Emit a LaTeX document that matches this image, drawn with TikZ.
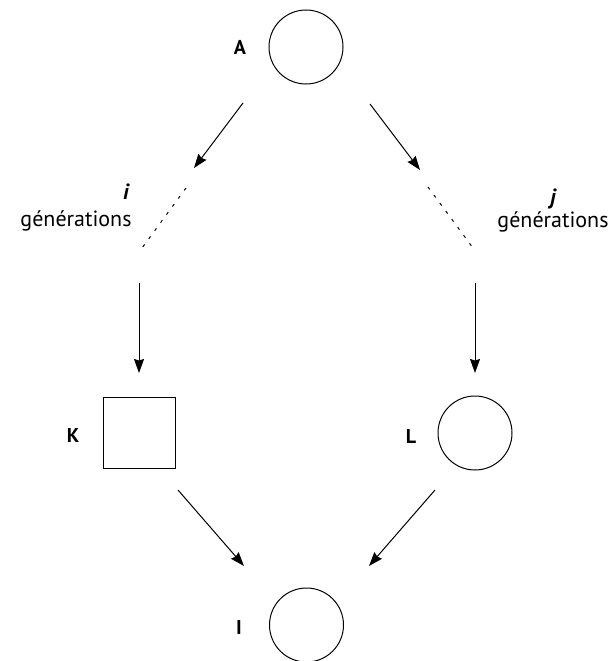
\documentclass[tikz,border=0pt]{standalone}
\usepackage{fontspec}
\setmainfont{PT Sans}
\usetikzlibrary{arrows.meta}
\begin{document}
\begin{tikzpicture}[x=1pt,y=-1pt,
  every node/.style={font=\fontsize{22}{25}\selectfont},
  circ/.style={draw,circle,line width=1pt,minimum size=74pt,inner sep=0pt},
  sq/.style={draw,rectangle,line width=1pt,minimum width=72pt,minimum height=71pt,inner sep=0pt},
  lab/.style={font=\fontsize{20}{23}\selectfont\bfseries},
  arr/.style={line width=1pt,-{Stealth[length=14pt,width=10pt,inset=1.5pt]}},
  dots/.style={line width=1pt,dash pattern=on 3pt off 7pt}]
\useasboundingbox (0,0) rectangle (611,661);
\node[circ] (A) at (306,47) {};
\node[lab] (la) at (240,47) {A};
\node[sq] (K) at (139,433) {};
\node[lab] (lk) at (73,435) {K};
\node[circ] (L) at (475,433) {};
\node[lab] (ll) at (411,436) {L};
\node[circ] (I) at (306.5,625) {};
\node[lab] (li) at (239,627) {I};
\node (gi) at (126,192) {\bfseries\itshape i};
\node (gen1) at (76,221) {générations};
\node (gj) at (553,199) {\bfseries\itshape j};
\node (gen2) at (553,222) {générations};
% left branch
\coordinate (a1) at (243,103);
\coordinate (a2) at (194,168);
\coordinate (d1) at (186,188);
\coordinate (d2) at (142,248);
\coordinate (v1) at (139,283);
\coordinate (v2) at (139,373);
% right branch
\coordinate (b1) at (370,104);
\coordinate (b2) at (420,170);
\coordinate (e1) at (428,187);
\coordinate (e2) at (473,248);
\coordinate (w1) at (475,283);
\coordinate (w2) at (475,373);
% bottom
\coordinate (k1) at (178,490);
\coordinate (k2) at (244,566);
\coordinate (l1) at (435,490);
\coordinate (l2) at (369,566);
\draw[arr] (a1) -- (a2);
\draw[dots] (d1) -- (d2);
\draw[arr] (v1) -- (v2);
\draw[arr] (b1) -- (b2);
\draw[dots] (e1) -- (e2);
\draw[arr] (w1) -- (w2);
\draw[arr] (k1) -- (k2);
\draw[arr] (l1) -- (l2);
\end{tikzpicture}
\end{document}
